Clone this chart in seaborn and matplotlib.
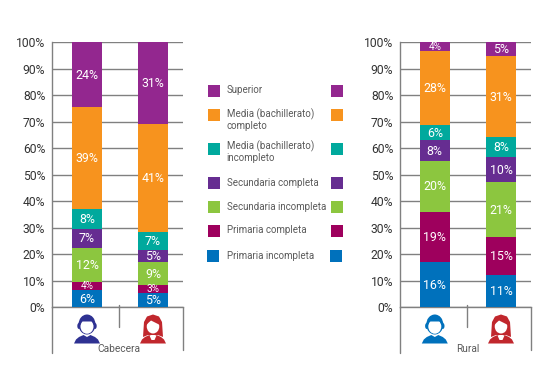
import matplotlib
matplotlib.use("Agg")
import matplotlib.pyplot as plt
from matplotlib.patches import Ellipse, Polygon, Rectangle
import pandas as pd
import seaborn as sns

sns.set_theme(style="white")
plt.rcParams['font.family'] = ['Roboto', 'DejaVu Sans']

groups = ["Hombre", "Mujer"]
levels = ["Primaria incompleta", "Primaria completa", "Secundaria incompleta",
          "Secundaria completa", "Media (bachillerato)\nincompleto",
          "Media (bachillerato)\ncompleto", "Superior"]
colors = ["#0071BC", "#9E005D", "#8CC63F", "#662D91", "#00A99D", "#F7931E", "#93278F"]

cabecera_h = [6.5, 3.0, 12.9, 7.2, 7.5, 38.5, 24.4]
cabecera_m = [5.3, 3.1, 8.7, 4.5, 6.8, 40.8, 30.8]
rural_h = [17.1, 18.9, 19.2, 7.9, 5.7, 27.9, 3.3]
rural_m = [12.2, 14.3, 20.8, 9.4, 7.6, 30.5, 5.2]

cabecera_h_lab = ["6%", "4%", "12%", "7%", "8%", "39%", "24%"]
cabecera_m_lab = ["5%", "3%", "9%", "5%", "7%", "41%", "31%"]
rural_h_lab = ["16%", "19%", "20%", "8%", "6%", "28%", "4%"]
rural_m_lab = ["11%", "15%", "21%", "10%", "8%", "31%", "5%"]

yticks = list(range(0, 101, 10))
W, H = 555, 381
GRAY = "#808080"
TXT = "#5a5a5a"

fig = plt.figure(figsize=(W / 100, H / 100), dpi=100, facecolor="white")


def shoulders(cx, col):
    ov.add_patch(Polygon([(cx - 13, 343.5), (cx - 11, 339.5), (cx - 8, 337), (cx - 3.5, 335),
                          (cx, 337), (cx + 3.5, 335), (cx + 8, 337), (cx + 11, 339.5),
                          (cx + 13, 343.5)], closed=True, fc=col, ec="none"))


def man(cx, col):
    shoulders(cx, col)
    ov.add_patch(Ellipse((cx, 324.5), 17, 20, fc=col, ec="none"))
    ov.add_patch(Ellipse((cx - 8, 326), 3.4, 6, fc=col, ec="none"))
    ov.add_patch(Ellipse((cx + 8, 326), 3.4, 6, fc=col, ec="none"))
    ov.add_patch(Ellipse((cx, 326.5), 13, 14.5, fc="white", ec="none"))
    ov.add_patch(Polygon([(cx - 7, 325), (cx - 5, 321.5), (cx + 5, 321.5), (cx + 7, 325),
                          (cx + 7, 319), (cx - 7, 319)], closed=True, fc=col, ec="none"))


def woman(cx, col):
    shoulders(cx, col)
    ov.add_patch(Polygon([(cx - 10, 337), (cx - 9, 322), (cx - 6, 316.5), (cx, 314.5), (cx + 6, 316.5),
                          (cx + 9, 322), (cx + 10, 337), (cx + 5, 335), (cx - 5, 335)],
                         closed=True, fc=col, ec="none"))
    ov.add_patch(Ellipse((cx, 326.5), 12.5, 14, fc="white", ec="none"))
    ov.add_patch(Polygon([(cx - 7, 325), (cx - 2, 320.5), (cx + 7, 325), (cx + 7, 318), (cx - 7, 318)],
                         closed=True, fc=col, ec="none"))
    ov.add_patch(Polygon([(cx - 3.5, 335.5), (cx + 3.5, 335.5), (cx + 1.5, 340), (cx - 1.5, 340)],
                         closed=True, fc="white", ec="none"))


def panel(x0, x1, c0, c1, vals0, vals1, labs0, labs1, title, mid, man_color):
    ax = fig.add_axes([x0 / W, 1 - 307.3 / H, (x1 - x0) / W, 265 / H])
    ax.set_facecolor("none")
    bottoms = [0.0, 0.0]
    for i, lev in enumerate(levels):
        df = pd.DataFrame({"g": groups, "v": [vals0[i], vals1[i]], "b": bottoms})
        sns.barplot(data=df, x="g", y="v", order=groups, color=colors[i], saturation=1,
                    width=30 / (c1 - c0), bottom=df["b"].values, ax=ax, zorder=3,
                    linewidth=0, errorbar=None)
        for j, (v, lab) in enumerate(zip((vals0[i], vals1[i]), (labs0[i], labs1[i]))):
            small = v < 3.5
            ax.text(j, bottoms[j] + v / 2 - (0 if small else 0.2), lab, ha="center", va="center",
                    color="white", fontsize=7.2 if small else 8.9, zorder=4)
        bottoms = [bottoms[0] + vals0[i], bottoms[1] + vals1[i]]
    px = c1 - c0
    ax.set_xlim((x0 - c0) / px, (x1 - c0) / px)
    ax.set_ylim(0, 100)
    ax.set_yticks(yticks)
    ax.set_yticklabels([f"{t}%" for t in yticks], fontsize=8.7, color="#333333")
    ax.set_xticks([])
    ax.set_xlabel("")
    ax.set_ylabel("")
    ax.tick_params(axis="y", length=0, pad=5)
    ax.grid(axis="y", color=GRAY, lw=1.0, zorder=1)
    for s in ("top", "right"):
        ax.spines[s].set_visible(False)
    for s in ("left", "bottom"):
        ax.spines[s].set_color(GRAY)
        ax.spines[s].set_linewidth(1.0)
        ax.spines[s].set_zorder(2)
    ov.plot([x0, x0], [307, 353], color=GRAY, lw=1.0)
    ov.plot([x1, x1], [307, 350], color=GRAY, lw=1.0)
    ov.plot([mid, mid], [305, 327], color=GRAY, lw=1.0)
    ov.text(mid, 348.5, title, ha="center", va="center", fontsize=7.3, color=TXT, zorder=6)
    man(c0, man_color)
    woman(c1, "#C1272D")


ov = fig.add_axes([0, 0, 1, 1], zorder=5)
ov.set_xlim(0, W)
ov.set_ylim(H, 0)
ov.axis("off")
ov.patch.set_alpha(0)

panel(52.3, 182.7, 87, 153, cabecera_h, cabecera_m, cabecera_h_lab, cabecera_m_lab,
      "Cabecera", 119.3, "#2E3192")
panel(400.3, 530.7, 434.8, 501, rural_h, rural_m, rural_h_lab, rural_m_lab,
      "Rural", 467.3, "#0071BC")

row_tops = [250, 225, 201, 177, 143, 109, 85]
row_text = [256, 230, 207, 183, 152, 119.5, 90.3]
for i, lev in enumerate(levels):
    dx = -1 if i == 0 else 0
    ov.add_patch(Rectangle((208 + dx, row_tops[i]), 12, 12, fc=colors[i], ec="none"))
    ov.add_patch(Rectangle((331 + dx, row_tops[i]), 12, 12, fc=colors[i], ec="none"))
    ov.text(226.7, row_text[i], lev, ha="left", va="center", fontsize=7.0, color=TXT,
            linespacing=1.15)

fig.savefig("out.png", dpi=100)
